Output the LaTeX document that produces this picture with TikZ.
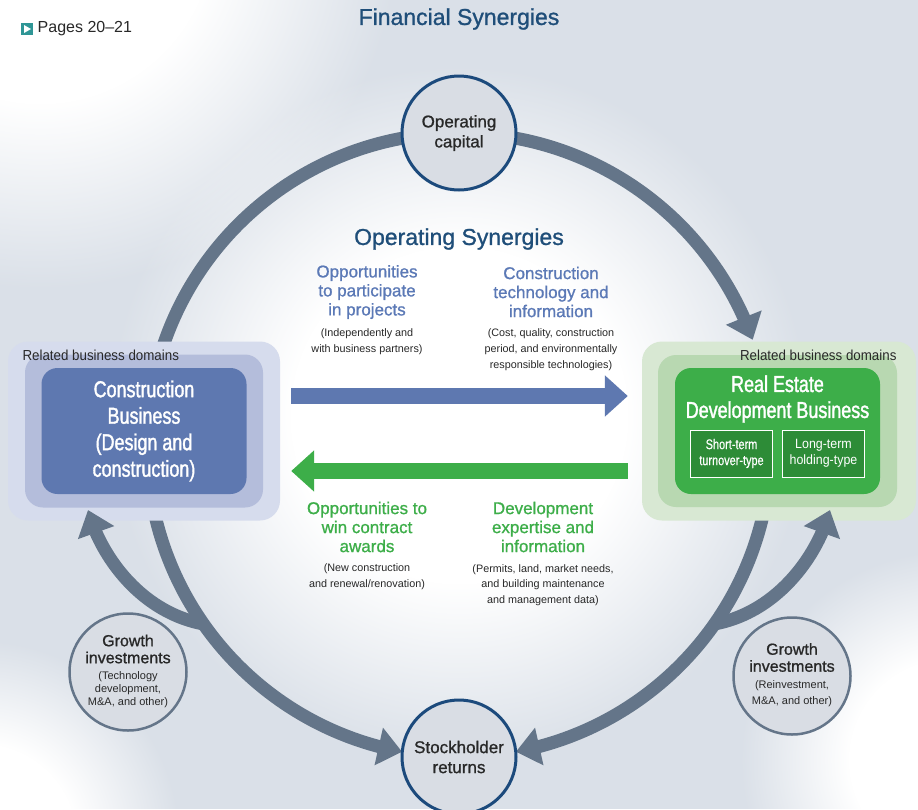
\documentclass[tikz,border=0pt]{standalone}
\usepackage{fontspec}
\setmainfont{Liberation Sans}
\newfontfamily\medfont[FakeBold=1.0]{Liberation Sans}
\newfontfamily\condfont[FakeStretch=0.78,FakeBold=1.6]{Liberation Sans}
\newfontfamily\subfont[FakeStretch=0.78,FakeBold=0.5]{Liberation Sans}
\newfontfamily\narrowfont[FakeStretch=0.92]{Liberation Sans}
\usetikzlibrary{arrows.meta,bending,positioning,fadings}

\definecolor{bgblue}{RGB}{218,224,232}
\definecolor{slate}{RGB}{100,117,137}
\definecolor{navy}{RGB}{28,74,124}
\definecolor{titleblue}{RGB}{31,78,121}
\definecolor{synblue}{RGB}{91,121,182}
\definecolor{syngreen}{RGB}{61,174,73}
\definecolor{bubble}{RGB}{217,221,228}
\definecolor{textgray}{RGB}{40,40,40}
\definecolor{conOuterC}{RGB}{214,220,237}
\definecolor{conMidC}{RGB}{180,189,219}
\definecolor{conInC}{RGB}{94,120,176}
\definecolor{reOuterC}{RGB}{216,232,211}
\definecolor{reMidC}{RGB}{184,216,177}
\definecolor{reInC}{RGB}{61,174,73}
\definecolor{reSubC}{RGB}{45,140,55}
\definecolor{pagesteal}{RGB}{47,150,150}

\pgfdeclareradialshading{glowshade}{\pgfpointorigin}{color(0bp)=(white); color(12bp)=(white); color(25bp)=(black); color(50bp)=(black)}
\pgfdeclarefading{glowfade}{\pgfuseshading{glowshade}}

\begin{document}
\begin{tikzpicture}[x=1pt, y=-1pt,
    flow/.style={draw=slate, line width=13pt, -{Triangle[length=24pt, width=37pt]}},
    plainflow/.style={draw=slate, line width=13pt},
    bigarrow/.style={line width=16pt, -{Triangle[length=23pt, width=40pt]}},
    hubnode/.style={circle, fill=bubble, draw=navy, line width=3pt, minimum size=114pt, inner sep=0pt, align=center, text=textgray, font=\medfont\fontsize{17}{20}\selectfont},
    growthnode/.style={circle, fill=bubble, draw=slate, line width=2.5pt, minimum size=117pt, inner sep=0pt, align=center, text=textgray, font=\medfont\fontsize{16}{17}\selectfont},
    tier/.style={rounded corners=18pt, inner sep=0pt},
    bizname/.style={text=white, align=center, font=\condfont\fontsize{23}{26.5}\selectfont},
    subbox/.style={draw=white, line width=1pt, fill=reSubC, minimum width=82pt, minimum height=47pt, inner sep=0pt, text=white, align=center},
    heading/.style={align=center, font=\medfont\fontsize{17}{19}\selectfont},
    note/.style={align=center, text=textgray, font=\fontsize{10.8}{15.8}\selectfont},
    domainlabel/.style={text=textgray, font=\narrowfont\fontsize{14.5}{16}\selectfont}
]
    % Background
    \useasboundingbox (0,0) rectangle (918,809);
    \clip (0,0) rectangle (918,809);
    \fill[bgblue] (0,0) rectangle (918,809);
    \fill[white, path fading=glowfade] (40,-70) circle[radius=360];
    \fill[white, path fading=glowfade] (-20,840) circle[radius=200];
    \fill[white, path fading=glowfade] (950,760) circle[radius=210];
    \fill[white, path fading=glowfade] (459,415) circle[radius=350];

    % Financial cycle
    \coordinate (hub) at (459,445);
    \draw[plainflow] ([shift={(196:312)}]hub) arc[start angle=196, end angle=262, radius=312];
    \draw[flow] ([shift={(278:312)}]hub) arc[start angle=278, end angle=340.3, radius=312];
    \draw[flow] ([shift={(170:312)}]hub) arc[start angle=170, end angle=100.5, radius=312];
    \draw[flow] ([shift={(10:312)}]hub) arc[start angle=10, end angle=79.5, radius=312];

    % Construction business
    \node[tier, fill=conOuterC, rounded corners=20pt, minimum width=272pt, minimum height=179pt] (conOuter) at (144,431) {};
    \node[tier, fill=conMidC, minimum width=238pt, minimum height=153pt] (conMid) at (conOuter.center) {};
    \node[tier, bizname, fill=conInC, rounded corners=16pt, minimum width=205pt, minimum height=126pt] (conBiz) at (conOuter.center) {Construction\\Business\\(Design and\\construction)};
    \node[domainlabel, anchor=west] (conDomain) at (19,355) {Related business domains};

    % Real estate development business
    \node[tier, fill=reOuterC, rounded corners=20pt, minimum width=274pt, minimum height=179pt] (reOuter) at (779,431) {};
    \node[tier, fill=reMidC, minimum width=239pt, minimum height=152pt] (reMid) at (777.5,431) {};
    \node[tier, fill=reInC, rounded corners=16pt, minimum width=205pt, minimum height=126pt] (reBiz) at (777.5,431) {};
    \node[bizname, font=\condfont\fontsize{23}{26}\selectfont] (reTitle) at (777.5,399) {Real Estate\\Development Business};
    \node[subbox, font=\subfont\fontsize{14}{16}\selectfont] (shortTerm) at (731.5,453.5) {Short-term\\turnover-type};
    \node[subbox, right=9pt of shortTerm, font=\narrowfont\fontsize{13.5}{16}\selectfont] (longTerm) {Long-term\\holding-type};
    \node[domainlabel, anchor=east] (reDomain) at (900,355) {Related business domains};

    % Operating synergies
    \draw[bigarrow, draw=conInC, fill=conInC] ([shift={(11,-35)}]conOuter.east) -- ([shift={(-14,-35)}]reOuter.west);
    \draw[bigarrow, draw=syngreen, fill=syngreen] ([shift={(-14,40)}]reOuter.west) -- ([shift={(11,40)}]conOuter.east);

    % Growth investments
    \coordinate (forkL) at ([shift={(145:312)}]hub);
    \coordinate (forkR) at ([shift={(35:312)}]hub);
    \draw[flow] (forkL) .. controls (140,612) and (100,555) .. (88,510);
    \draw[flow] (forkR) .. controls (778,612) and (818,555) .. (830,510);

    \node[growthnode] (growL) at (128,672) {Growth\\investments\\[6pt]{\normalfont\fontsize{11}{13}\selectfont\begin{tabular}{@{}c@{}}(Technology\\development,\\M\&A, and other)\end{tabular}}};
    \node[growthnode] (growR) at (792,676) {Growth\\investments\\[5pt]{\normalfont\fontsize{11}{15.5}\selectfont\begin{tabular}{@{}c@{}}(Reinvestment,\\M\&A, and other)\end{tabular}}};

    % Capital nodes
    \node[hubnode] (opCapital) at (459,133) {Operating\\capital};
    \node[hubnode] (returns) at (459,757) {Stockholder\\returns};

    % Titles
    \node[text=titleblue, font=\medfont\fontsize{23}{26}\selectfont] (finTitle) at (459,19) {Financial Synergies};
    \node[text=titleblue, font=\medfont\fontsize{23}{26}\selectfont] (opTitle) at (459,239) {Operating Synergies};
    \node[fill=pagesteal, minimum size=12pt, inner sep=0pt] (pagesBox) at (27,29) {};
    \fill[white] ([shift={(-3,-4)}]pagesBox.center) -- ([shift={(-3,4)}]pagesBox.center) -- ([shift={(4,0)}]pagesBox.center) -- cycle;
    \node[right=1pt of pagesBox, text=textgray, font=\fontsize{16}{18}\selectfont] (pages) {Pages 20--21};

    % Synergy labels
    \node[heading, text=synblue] (partHead) at (367,292) {Opportunities\\to participate\\in projects};
    \node[note] (partNote) at (367,342) {(Independently and\\with business partners)};
    \node[heading, text=synblue] (techHead) at (551,292) {Construction\\technology and\\information};
    \node[note] (techNote) at (551,350) {(Cost, quality, construction\\period, and environmentally\\responsible technologies)};
    \node[heading, text=syngreen] (winHead) at (367,527) {Opportunities to\\win contract\\awards};
    \node[note] (winNote) at (367,577) {(New construction\\and renewal/renovation)};
    \node[heading, text=syngreen] (devHead) at (543,527) {Development\\expertise and\\information};
    \node[note] (devNote) at (543,585) {(Permits, land, market needs,\\and building maintenance\\and management data)};
\end{tikzpicture}
\end{document}
